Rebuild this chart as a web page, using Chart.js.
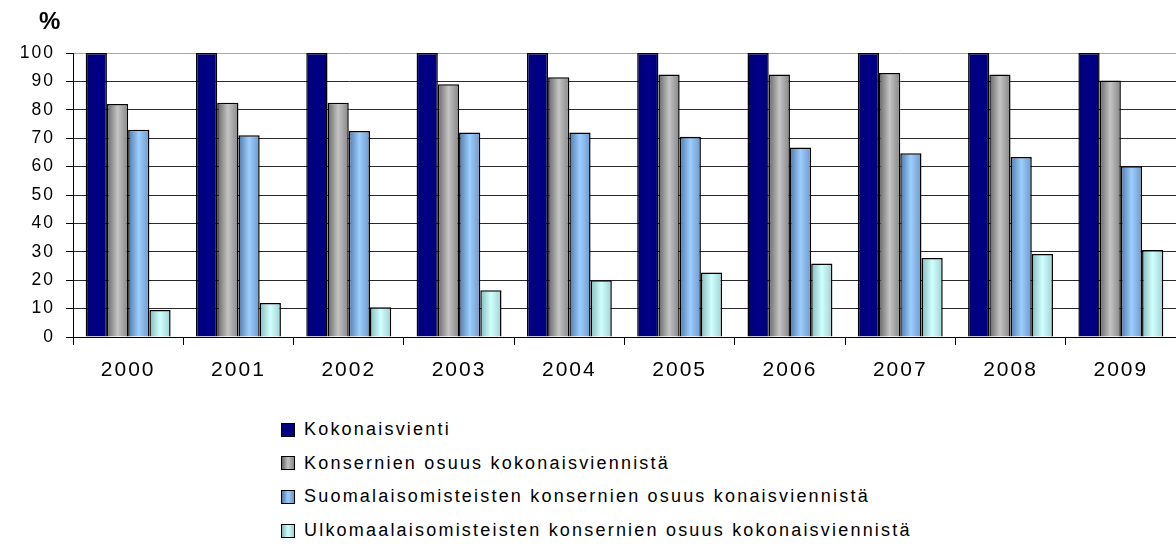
<!DOCTYPE html>
<html>
<head>
<meta charset="utf-8">
<script src="https://cdn.jsdelivr.net/npm/chart.js@4/dist/chart.umd.min.js"></script>
<style>
  body { margin: 0; background: #fff; font-family: "Liberation Sans", Arial, sans-serif; }
  #wrap { position: relative; width: 1176px; height: 544px; }
  #box { position: absolute; left: 0; top: 0; width: 1176px; height: 400px; }
  #unit { position: absolute; left: 39px; top: 9px; font-size: 24px; line-height: 1; font-weight: bold; }
  #legend { position: absolute; left: 281px; top: 413px; font-size: 18px; letter-spacing: 2.2px; }
  #legend div { height: 33.6px; display: flex; align-items: center; }
  #legend span.sw { width: 12px; height: 12px; border: 1px solid #000; margin-right: 9px; flex: none; }
</style>
</head>
<body>
<div id="wrap">
  <div id="box"><canvas id="c"></canvas></div>
  <div id="unit">%</div>
  <div id="legend"></div>
</div>
<script>
const years = ['2000', '2001', '2002', '2003', '2004', '2005', '2006', '2007', '2008', '2009'];
const kokonaisvienti = [100, 100, 100, 100, 100, 100, 100, 100, 100, 100];
const konsernit = [82, 82.5, 82.5, 89, 91.5, 92.4, 92.4, 93, 92.4, 90.3];
const suomalaiset = [73, 71, 72.5, 72, 72, 70.5, 66.7, 64.7, 63.4, 60.1];
const ulkomaalaiset = [9.5, 12, 10.5, 16.5, 20, 22.7, 25.9, 27.8, 29.2, 30.6];
const yTicks = [0, 10, 20, 30, 40, 50, 60, 70, 80, 90, 100];

const names = [
  'Kokonaisvienti',
  'Konsernien osuus kokonaisviennistä',
  'Suomalaisomisteisten konsernien osuus konaisviennistä',
  'Ulkomaalaisomisteisten konsernien osuus kokonaisviennistä'
];
const series = [kokonaisvienti, konsernit, suomalaiset, ulkomaalaiset];

// left edge, centre, right edge for the shaded bars
const shades = [
  ['#000078', '#000086', '#00007c'],
  ['#666666', '#c4c4c4', '#858585'],
  ['#4f78aa', '#9cceff', '#6e98c8'],
  ['#86baba', '#d0ffff', '#a0d0d0']
];
const catPct = 0.77;

function shade(c) {
  const i = c.datasetIndex;
  const chart = c.chart;
  const xs = chart.scales.x;
  if (c.type !== 'data' || !xs || !chart.chartArea) return shades[i][1];
  const group = xs.width / years.length * catPct;
  const w = group / 4;
  const left = xs.getPixelForValue(c.dataIndex) - group / 2 + w * i;
  const g = chart.ctx.createLinearGradient(left, 0, left + w, 0);
  g.addColorStop(0, shades[i][0]);
  g.addColorStop(0.5, shades[i][1]);
  g.addColorStop(1, shades[i][2]);
  return g;
}

const spacing = {
  id: 'spacing',
  beforeLayout(chart) { chart.ctx.letterSpacing = '2px'; },
  beforeDraw(chart) { chart.ctx.letterSpacing = '2px'; }
};

const ctx = document.getElementById('c').getContext('2d');
new Chart(ctx, {
  type: 'bar',
  data: {
    labels: years,
    datasets: series.map((d, i) => ({
      label: names[i],
      data: d,
      backgroundColor: shade,
      borderColor: '#000',
      borderWidth: 1.5,
      categoryPercentage: catPct,
      barPercentage: 1
    }))
  },
  options: {
    responsive: true,
    maintainAspectRatio: false,
    animation: false,
    layout: { padding: { top: 53, right: 0, left: 0, bottom: 0 } },
    plugins: { legend: { display: false }, tooltip: { enabled: false } },
    scales: {
      x: {
        offset: true,
        afterFit: s => { s.height = 63; },
        grid: { display: true, offset: true, drawOnChartArea: false, color: '#000', tickLength: 8 },
        border: { color: '#000', width: 1 },
        ticks: { color: '#000', font: { family: 'Liberation Sans', size: 21 }, padding: 13 }
      },
      y: {
        min: 0,
        max: 100,
        afterFit: s => { s.width = 73; },
        afterBuildTicks: s => { s.ticks = yTicks.map(v => ({ value: v })); },
        grid: {
          color: c => (c.tick && c.tick.value === 100 ? '#a8a8a8' : '#2a2a2a'),
          tickColor: '#000',
          tickLength: 7
        },
        border: { color: '#000', width: 1 },
        ticks: { color: '#000', font: { family: 'Liberation Sans', size: 17.5 }, padding: 11 }
      }
    }
  },
  plugins: [spacing]
});

const legend = document.getElementById('legend');
names.forEach((n, i) => {
  const row = document.createElement('div');
  const sw = document.createElement('span');
  sw.className = 'sw';
  sw.style.background = 'linear-gradient(90deg,' + shades[i].join(',') + ')';
  row.appendChild(sw);
  row.appendChild(document.createTextNode(n));
  legend.appendChild(row);
});
</script>
</body>
</html>
